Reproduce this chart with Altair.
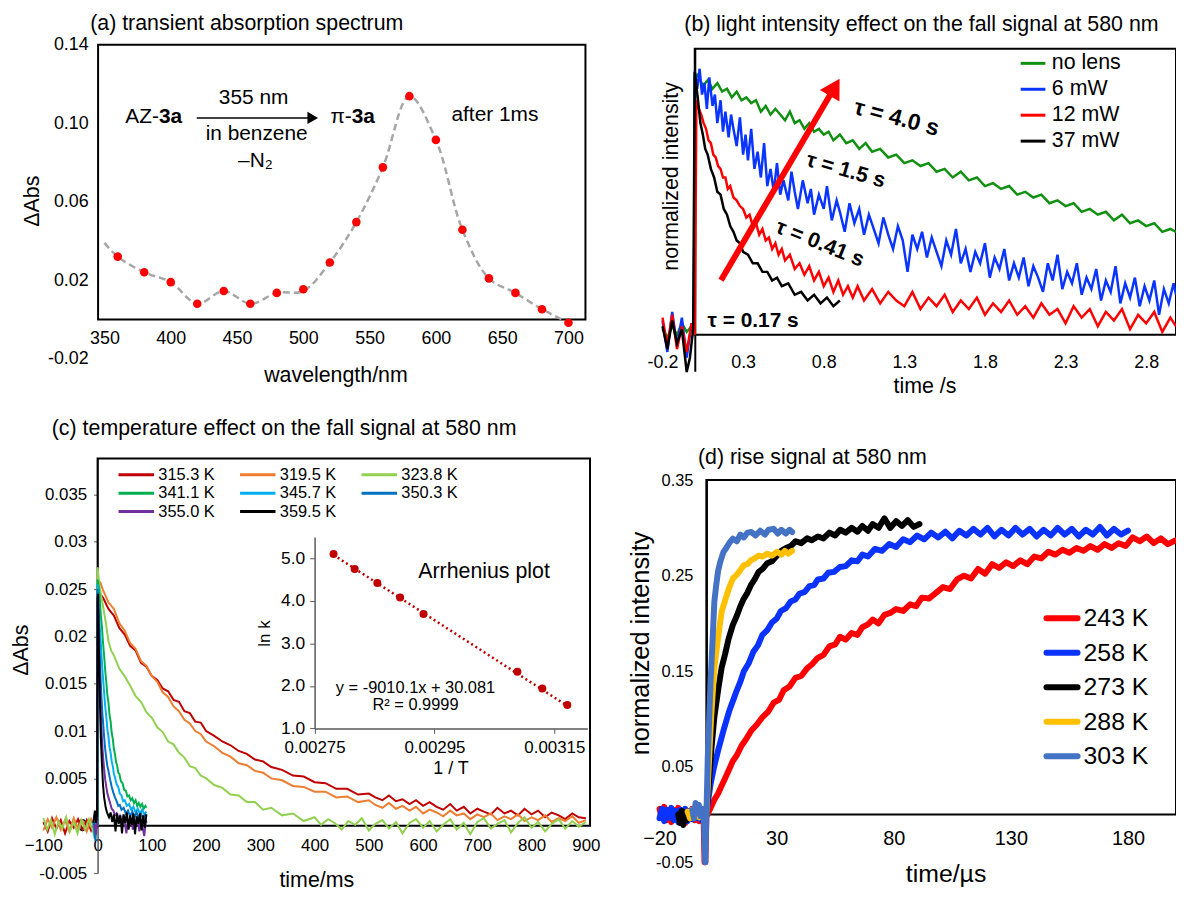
import altair as alt
import pandas as pd

FONT = "Liberation Sans"
W, H = 1176, 884

# ---------------- (a) transient absorption spectrum ----------------
a_wavelength = [360, 380, 400, 420, 440, 460, 480, 500, 520, 540, 560, 580, 600, 620, 640, 660, 680, 700]
a_dabs = [0.032, 0.024, 0.019, 0.008, 0.0145, 0.008, 0.0135, 0.0154, 0.029, 0.0496,
          0.0775, 0.1138, 0.0915, 0.0457, 0.0209, 0.0135, 0.0052, -0.0017]
a_curve_wavelength = [350, 360, 380, 400, 420, 440, 460, 480, 500, 520, 540, 560, 580, 600, 620, 640, 660, 680, 700]
a_curve_dabs = [0.039, 0.032, 0.024, 0.019, 0.008, 0.0145, 0.008, 0.0135, 0.0145, 0.029, 0.0496,
                0.0775, 0.1138, 0.0915, 0.0457, 0.0209, 0.0135, 0.0052, -0.0017]
a_xticks = [350, 400, 450, 500, 550, 600, 650, 700]
a_yticks = [-0.02, 0.02, 0.06, 0.10, 0.14]

# ---------------- (b) light intensity effect ----------------
b_names = ["\u00a0\u00a0no lens", "\u00a0\u00a06 mW", "12 mW", "37 mW"]
b_colors = ["#109010", "#0A34FF", "#FF0000", "#000000"]
b_green = [(-0.2, 0.02), (-0.17, -0.01), (-0.14, 0.03), (-0.11, 0.0), (-0.08, 0.04), (-0.05, 0.01), (-0.02, 0.03), (-0.005, 0.02),
           (0.0, 0.90), (0.02, 0.91), (0.05, 0.87), (0.08, 0.89), (0.11, 0.86), (0.14, 0.88), (0.17, 0.85), (0.2, 0.86), (0.23, 0.83),
           (0.26, 0.85), (0.29, 0.82), (0.32, 0.83), (0.35, 0.81), (0.38, 0.82), (0.41, 0.78), (0.44, 0.8), (0.47, 0.77), (0.5, 0.79),
           (0.53, 0.77), (0.56, 0.75), (0.59, 0.78), (0.62, 0.74), (0.65, 0.75), (0.68, 0.72), (0.71, 0.74), (0.74, 0.71), (0.77, 0.72),
           (0.8, 0.7), (0.83, 0.71), (0.86, 0.68), (0.9, 0.7), (0.94, 0.67), (0.98, 0.68), (1.02, 0.65), (1.06, 0.67), (1.1, 0.64),
           (1.15, 0.65), (1.2, 0.62), (1.25, 0.63), (1.3, 0.6), (1.35, 0.61), (1.4, 0.59), (1.45, 0.6), (1.5, 0.57), (1.55, 0.58),
           (1.6, 0.55), (1.65, 0.57), (1.7, 0.54), (1.75, 0.55), (1.8, 0.52), (1.85, 0.53), (1.9, 0.51), (1.95, 0.52), (2.0, 0.49),
           (2.05, 0.5), (2.1, 0.48), (2.15, 0.49), (2.2, 0.46), (2.25, 0.47), (2.3, 0.45), (2.35, 0.46), (2.4, 0.43), (2.45, 0.44),
           (2.5, 0.42), (2.55, 0.43), (2.6, 0.4), (2.65, 0.42), (2.7, 0.39), (2.75, 0.4), (2.8, 0.38), (2.85, 0.39), (2.9, 0.36),
           (2.95, 0.37), (2.985, 0.36)]
b_blue = [(-0.2, 0.05), (-0.17, -0.06), (-0.14, 0.08), (-0.11, -0.04), (-0.08, 0.06), (-0.05, -0.08), (-0.02, 0.04), (-0.005, 0.0),
          (0.0, 0.92), (0.015, 0.86), (0.03, 0.93), (0.045, 0.84), (0.06, 0.88), (0.075, 0.79), (0.09, 0.9), (0.11, 0.8), (0.125, 0.84),
          (0.14, 0.74), (0.16, 0.82), (0.175, 0.71), (0.19, 0.78), (0.21, 0.69), (0.225, 0.77), (0.24, 0.72), (0.26, 0.66), (0.28, 0.76),
          (0.3, 0.63), (0.315, 0.7), (0.33, 0.61), (0.35, 0.72), (0.37, 0.58), (0.39, 0.64), (0.41, 0.55), (0.43, 0.67), (0.45, 0.52),
          (0.47, 0.58), (0.49, 0.5), (0.51, 0.6), (0.53, 0.49), (0.55, 0.54), (0.58, 0.47), (0.6, 0.57), (0.62, 0.5), (0.64, 0.44),
          (0.67, 0.54), (0.7, 0.46), (0.72, 0.51), (0.74, 0.42), (0.77, 0.49), (0.8, 0.44), (0.82, 0.52), (0.85, 0.4), (0.88, 0.47),
          (0.9, 0.43), (0.93, 0.36), (0.96, 0.46), (0.99, 0.39), (1.02, 0.44), (1.05, 0.35), (1.08, 0.42), (1.11, 0.37), (1.14, 0.32),
          (1.17, 0.41), (1.2, 0.35), (1.23, 0.3), (1.26, 0.38), (1.29, 0.33), (1.32, 0.22), (1.35, 0.35), (1.38, 0.3), (1.41, 0.36),
          (1.44, 0.27), (1.47, 0.34), (1.5, 0.29), (1.53, 0.24), (1.56, 0.33), (1.59, 0.28), (1.62, 0.37), (1.65, 0.25), (1.68, 0.3),
          (1.71, 0.22), (1.74, 0.29), (1.77, 0.25), (1.8, 0.32), (1.83, 0.2), (1.86, 0.27), (1.89, 0.23), (1.92, 0.3), (1.95, 0.19),
          (1.98, 0.25), (2.01, 0.2), (2.04, 0.27), (2.07, 0.17), (2.1, 0.24), (2.13, 0.2), (2.16, 0.15), (2.19, 0.25), (2.22, 0.19),
          (2.25, 0.28), (2.28, 0.16), (2.31, 0.22), (2.34, 0.18), (2.37, 0.25), (2.4, 0.14), (2.43, 0.2), (2.46, 0.16), (2.49, 0.23),
          (2.52, 0.12), (2.55, 0.19), (2.58, 0.15), (2.61, 0.24), (2.64, 0.11), (2.67, 0.18), (2.7, 0.13), (2.73, 0.2), (2.76, 0.1),
          (2.79, 0.17), (2.82, 0.12), (2.85, 0.19), (2.88, 0.07), (2.91, 0.16), (2.94, 0.11), (2.97, 0.18), (2.985, 0.14)]
b_red = [(-0.2, 0.06), (-0.17, -0.04), (-0.14, 0.07), (-0.11, -0.05), (-0.08, 0.03), (-0.05, -0.06), (-0.02, 0.04), (0.0, 0.0),
         (0.01, 0.82), (0.025, 0.79), (0.04, 0.77), (0.055, 0.74), (0.07, 0.72), (0.085, 0.68), (0.1, 0.67), (0.115, 0.63), (0.13, 0.62),
         (0.145, 0.59), (0.16, 0.58), (0.175, 0.55), (0.19, 0.55), (0.205, 0.51), (0.22, 0.52), (0.24, 0.48), (0.26, 0.47), (0.28, 0.45),
         (0.3, 0.44), (0.32, 0.41), (0.34, 0.42), (0.36, 0.38), (0.38, 0.39), (0.4, 0.35), (0.42, 0.37), (0.44, 0.33), (0.46, 0.34),
         (0.48, 0.3), (0.5, 0.32), (0.52, 0.28), (0.54, 0.3), (0.56, 0.26), (0.59, 0.28), (0.62, 0.23), (0.65, 0.25), (0.68, 0.21),
         (0.71, 0.24), (0.74, 0.19), (0.77, 0.22), (0.8, 0.17), (0.83, 0.2), (0.86, 0.15), (0.89, 0.19), (0.92, 0.14), (0.95, 0.17),
         (0.98, 0.13), (1.01, 0.17), (1.05, 0.12), (1.1, 0.16), (1.15, 0.11), (1.2, 0.15), (1.25, 0.12), (1.3, 0.1), (1.35, 0.15),
         (1.4, 0.09), (1.45, 0.13), (1.5, 0.1), (1.55, 0.14), (1.6, 0.08), (1.65, 0.12), (1.7, 0.09), (1.75, 0.13), (1.8, 0.07),
         (1.85, 0.11), (1.9, 0.08), (1.95, 0.12), (2.0, 0.07), (2.05, 0.1), (2.1, 0.06), (2.15, 0.11), (2.2, 0.07), (2.25, 0.09),
         (2.3, 0.04), (2.35, 0.1), (2.4, 0.06), (2.45, 0.09), (2.5, 0.03), (2.55, 0.08), (2.6, 0.05), (2.65, 0.09), (2.7, 0.02),
         (2.75, 0.07), (2.8, 0.04), (2.85, 0.08), (2.9, 0.01), (2.95, 0.06), (2.985, 0.03)]
b_black = [(-0.2, 0.03), (-0.17, -0.05), (-0.14, 0.05), (-0.11, -0.03), (-0.08, 0.02), (-0.05, -0.13), (-0.03, -0.08), (-0.01, 0.02),
           (0.0, 0.92), (0.02, 0.82), (0.035, 0.74), (0.05, 0.70), (0.065, 0.65), (0.08, 0.63), (0.1, 0.58), (0.12, 0.55), (0.14, 0.50),
           (0.16, 0.49), (0.18, 0.44), (0.2, 0.42), (0.22, 0.38), (0.24, 0.36), (0.26, 0.33), (0.28, 0.32), (0.3, 0.29), (0.33, 0.28),
           (0.36, 0.25), (0.39, 0.25), (0.42, 0.22), (0.45, 0.22), (0.48, 0.19), (0.51, 0.20), (0.54, 0.17), (0.58, 0.18), (0.62, 0.14),
           (0.66, 0.15), (0.7, 0.12), (0.74, 0.14), (0.78, 0.11), (0.82, 0.13), (0.86, 0.10), (0.9, 0.12)]
b_xticks = [-0.2, 0.3, 0.8, 1.3, 1.8, 2.3, 2.8]

# ---------------- (c) temperature effect ----------------
c_names = ["315.3 K", "319.5 K", "323.8 K", "341.1 K", "345.7 K", "350.3 K", "355.0 K", "359.5 K"]
c_colors = ["#C00000", "#ED7D31", "#92D050", "#00B050", "#00B0F0", "#0070C0", "#7030A0", "#000000"]
c_315 = [(-100, 0.0004), (-92, -0.0006), (-84, 0.0008), (-76, -0.0003), (-68, 0.0006), (-60, -0.0008), (-52, 0.0005), (-44, -0.0002),
         (-36, 0.0007), (-28, -0.0004), (-20, 0.0006), (-12, -0.0005), (-5, 0.0003), (-1, 0.0),
         (0, 0.0248), (10, 0.0241), (20, 0.0229), (30, 0.0222), (40, 0.0209), (50, 0.0202), (60, 0.019), (70, 0.0185), (80, 0.0172),
         (90, 0.0168), (100, 0.0158), (110, 0.0154), (120, 0.0145), (130, 0.0142), (140, 0.0133), (150, 0.0131), (160, 0.0121),
         (170, 0.0119), (180, 0.011), (190, 0.0109), (200, 0.01), (215, 0.0095), (230, 0.0089), (245, 0.0085), (260, 0.0079),
         (275, 0.0076), (290, 0.007), (305, 0.0068), (320, 0.0062), (340, 0.0059), (360, 0.0053), (380, 0.0052), (400, 0.0046),
         (420, 0.0045), (440, 0.0039), (460, 0.0039), (480, 0.0033), (500, 0.0034), (512, 0.003), (525, 0.0027), (537, 0.0032),
         (550, 0.0026), (562, 0.0028), (575, 0.0023), (587, 0.0027), (600, 0.0021), (612, 0.0025), (625, 0.002), (637, 0.0017),
         (650, 0.0023), (662, 0.0016), (675, 0.002), (687, 0.0013), (700, 0.0018), (712, 0.0015), (725, 0.0012), (737, 0.0019),
         (750, 0.0013), (762, 0.0016), (775, 0.0011), (787, 0.0018), (800, 0.0012), (812, 0.0016), (825, 0.0009), (837, 0.0014),
         (850, 0.0011), (862, 0.0007), (875, 0.0013), (887, 0.0009), (900, 0.0008)]
c_319 = [(-100, -0.0005), (-92, 0.0007), (-84, -0.0002), (-76, 0.0009), (-68, -0.0004), (-60, 0.0006), (-52, -0.0006), (-44, 0.0008),
         (-36, -0.0003), (-28, 0.0005), (-20, -0.0006), (-12, 0.0007), (-5, -0.0004), (-1, 0.0003),
         (0, 0.026), (5, 0.0257), (10, 0.0249), (20, 0.0236), (30, 0.0229), (40, 0.0214), (50, 0.0206), (60, 0.0193), (70, 0.0187),
         (80, 0.0174), (90, 0.0169), (100, 0.0158), (110, 0.0152), (120, 0.0141), (130, 0.0136), (140, 0.0126), (150, 0.0121),
         (160, 0.0112), (170, 0.0108), (180, 0.01), (190, 0.0097), (200, 0.0089), (215, 0.0084), (230, 0.0077), (245, 0.0073),
         (260, 0.0066), (275, 0.0064), (290, 0.0058), (305, 0.0056), (320, 0.005), (340, 0.0048), (360, 0.0042), (380, 0.0041),
         (400, 0.0036), (420, 0.0036), (440, 0.003), (460, 0.0031), (480, 0.0025), (500, 0.0027), (512, 0.0022), (525, 0.0019),
         (537, 0.0024), (550, 0.0018), (562, 0.0021), (575, 0.0016), (587, 0.002), (600, 0.0013), (612, 0.0017), (625, 0.0014),
         (637, 0.001), (650, 0.0016), (662, 0.0011), (675, 0.0013), (687, 0.0007), (700, 0.0012), (712, 0.0009), (725, 0.0013),
         (737, 0.0006), (750, 0.001), (762, 0.0007), (775, 0.0012), (787, 0.0005), (800, 0.0009), (812, 0.0006), (825, 0.0011),
         (837, 0.0004), (850, 0.0008), (862, 0.0005), (875, 0.001), (887, 0.0003), (900, 0.0006)]
c_323 = [(-100, 0.0008), (-93, -0.0004), (-86, 0.0006), (-79, -0.0009), (-72, 0.0005), (-65, -0.0003), (-58, 0.0009), (-51, -0.0006),
         (-44, 0.0004), (-37, -0.0008), (-30, 0.0006), (-23, -0.0004), (-16, 0.0007), (-9, -0.0005), (-5, -0.0014), (-2, 0.0004), (-0.5, 0.0),
         (0, 0.0273), (3, 0.0255), (6, 0.0245), (10, 0.0232), (15, 0.0215), (20, 0.0195), (25, 0.0185), (30, 0.018), (40, 0.0166),
         (50, 0.0158), (60, 0.0148), (70, 0.0137), (80, 0.0131), (90, 0.012), (100, 0.0114), (110, 0.0104), (120, 0.0099),
         (130, 0.0089), (140, 0.0086), (150, 0.0077), (160, 0.0072), (170, 0.0063), (180, 0.0061), (190, 0.0053), (200, 0.005),
         (215, 0.0043), (230, 0.004), (245, 0.0033), (260, 0.0032), (275, 0.0025), (290, 0.0025), (305, 0.0017), (320, 0.0019),
         (340, 0.0011), (360, 0.0013), (380, 0.0005), (400, 0.0009), (412, 0.0001), (425, 0.0007), (437, 0.0003), (450, -0.0004),
         (462, 0.0005), (475, 0.0001), (487, 0.0008), (500, -0.0005), (512, 0.0002), (525, 0.0006), (537, -0.0003), (550, 0.0004),
         (562, -0.0008), (575, 0.0003), (587, 0.0007), (600, -0.0002), (612, 0.0005), (625, -0.0006), (637, 0.0001), (650, 0.0007),
         (662, -0.0004), (675, 0.0003), (687, -0.0009), (700, 0.0004), (712, 0.0008), (725, -0.0003), (737, 0.0002), (750, 0.0006),
         (762, -0.0007), (775, 0.0003), (787, 0.0009), (800, -0.0002), (812, 0.0004), (825, -0.0006), (837, 0.0002), (850, 0.0007),
         (862, -0.0003), (875, 0.0005), (887, -0.0001), (900, 0.0004)]
c_341 = [(-8, 0.0004), (-5, -0.0005), (-2, 0.0006), (-0.5, 0.0),
         (0, 0.026), (2, 0.0252), (4, 0.024), (6, 0.0222), (8, 0.021), (10, 0.0193), (12, 0.018), (14, 0.0164), (16, 0.0152),
         (18, 0.0138), (20, 0.013), (22, 0.0117), (24, 0.011), (26, 0.0098), (28, 0.0092), (30, 0.0081), (32, 0.0076), (34, 0.0067),
         (36, 0.0064), (38, 0.0056), (40, 0.0055), (43, 0.0047), (46, 0.0045), (49, 0.0038), (52, 0.0037), (55, 0.0031), (58, 0.0032),
         (61, 0.0027), (64, 0.0029), (67, 0.0024), (70, 0.0027), (73, 0.0021), (76, 0.0024), (79, 0.002), (82, 0.0023), (85, 0.0018),
         (88, 0.0021), (90, 0.0019)]
c_345 = [(-8, 0.0005), (-5, -0.0013), (-3, 0.0002), (-1, 0.0008),
         (0, 0.0255), (2, 0.0235), (4, 0.021), (6, 0.0192), (8, 0.0172), (10, 0.0156), (12, 0.0141), (14, 0.0126), (16, 0.0115),
         (18, 0.0102), (20, 0.0094), (22, 0.0083), (24, 0.0077), (26, 0.0068), (28, 0.0063), (30, 0.0055), (32, 0.0051), (35, 0.0044),
         (38, 0.0041), (41, 0.0034), (44, 0.0032), (47, 0.0026), (50, 0.0027), (54, 0.0021), (58, 0.0023), (62, 0.0017), (66, 0.002),
         (70, 0.0014), (74, 0.0018), (78, 0.0013), (82, 0.0017), (86, 0.0012), (90, 0.0015)]
c_350 = [(-7, 0.0003), (-4, -0.0016), (-2, 0.0004), (-0.5, 0.0),
         (0, 0.025), (1, 0.0232), (2, 0.0215), (3, 0.0197), (4, 0.018), (5, 0.0163), (6, 0.015), (7, 0.0137), (8, 0.0127), (9, 0.0117),
         (10, 0.011), (12, 0.0094), (14, 0.0081), (16, 0.0071), (18, 0.0063), (20, 0.0058), (23, 0.0049), (26, 0.0041), (29, 0.0035),
         (32, 0.003), (35, 0.0026), (38, 0.0021), (41, 0.0022), (44, 0.0017), (48, 0.0019), (52, 0.0013), (56, 0.0016), (60, 0.001),
         (64, 0.0015), (68, 0.0009), (72, 0.0014), (76, 0.0008), (80, 0.0013), (84, 0.0007), (88, 0.0012), (90, 0.001)]
c_355 = [(-6, 0.0002), (-3, -0.0009), (-1, 0.0003),
         (0, 0.0245), (1, 0.022), (2, 0.0198), (3, 0.0175), (4, 0.0155), (5, 0.0135), (6, 0.0118), (7, 0.0104), (8, 0.0092), (9, 0.0082),
         (10, 0.0073), (12, 0.006), (14, 0.0049), (16, 0.0041), (18, 0.0034), (20, 0.003), (23, 0.0024), (26, 0.0018), (29, 0.0016),
         (32, 0.0011), (35, 0.0013), (38, 0.0006), (41, 0.001), (44, 0.0002), (47, 0.0009), (50, 0.0004), (53, -0.0008), (56, 0.0007),
         (59, 0.0001), (62, 0.0008), (65, -0.0004), (68, 0.0007), (71, 0.0), (74, 0.0008), (77, -0.0006), (80, 0.0007), (83, -0.0002),
         (86, -0.0011), (89, 0.0006), (90, 0.0003)]
c_359 = [(-8, 0.0003), (-5, 0.0016), (-3, 0.0003), (-1, 0.0012),
         (0, 0.024), (1, 0.0245), (2, 0.02), (3, 0.017), (4, 0.0142), (5, 0.0115), (6, 0.0092), (8, 0.0065), (10, 0.0043), (12, 0.003),
         (15, 0.0019), (18, 0.0013), (21, 0.0009), (24, 0.0014), (27, 0.0004), (30, 0.0012), (33, -0.0006), (36, 0.0013), (39, 0.0002),
         (42, 0.0011), (45, -0.0008), (48, 0.0012), (51, 0.0003), (54, 0.0014), (57, -0.0004), (60, 0.0011), (63, 0.0001), (66, 0.0013),
         (69, -0.0009), (72, 0.001), (75, 0.0002), (78, 0.0013), (81, -0.0005), (84, 0.0011), (87, -0.0002), (90, 0.0012)]
c_series = [c_315, c_319, c_323, c_341, c_345, c_350, c_355, c_359]
c_xticks = [-100, 0, 100, 200, 300, 400, 500, 600, 700, 800, 900]
c_yticks = [-0.005, 0, 0.005, 0.01, 0.015, 0.02, 0.025, 0.03, 0.035]

# inset: Arrhenius plot
i_inv_T = [0.0027816, 0.0028169, 0.0028547, 0.0028927, 0.0029317, 0.0030883, 0.0031299, 0.0031716]
i_ln_k = [5.10, 4.75, 4.42, 4.08, 3.69, 2.33, 1.94, 1.55]
i_trend_x = [0.0027816, 0.0031716]
i_trend_y = [5.08, 1.53]
i_xticks = [0.00275, 0.00295, 0.00315]
i_yticks = [1, 2, 3, 4, 5]

# ---------------- (d) rise signal ----------------
d_names = ["243 K", "258 K", "273 K", "288 K", "303 K"]
d_colors = ["#FF0000", "#0A33FF", "#000000", "#FFC000", "#4472C4"]
d_243 = [(-20, 0.006), (-19, -0.004), (-18, 0.008), (-17, -0.006), (-16, 0.004), (-15, -0.008), (-14, 0.005), (-13, -0.003),
         (-12, 0.007), (-11, -0.005), (-10, 0.004), (-9, -0.009), (-8, 0.003), (-7, -0.004), (-6, 0.006), (-5, -0.006), (-4, 0.003),
         (-3, -0.007), (-2, 0.004), (-1.2, -0.004), (-0.8, -0.05), (-0.4, -0.05), (0, -0.002),
         (0.5, 0.0), (2, 0.008), (3.5, 0.016), (5, 0.022), (6.5, 0.03), (8, 0.038), (9.5, 0.046), (11.3, 0.056), (13, 0.062), (15, 0.072),
         (17, 0.079), (19.2, 0.088), (21.5, 0.094), (24, 0.102), (26.5, 0.108), (28.7, 0.117), (31, 0.12), (33, 0.13), (35.5, 0.134),
         (38, 0.143), (40.5, 0.145), (43, 0.153), (45, 0.157), (47.6, 0.164), (50, 0.167), (52.5, 0.176), (55, 0.178), (57, 0.186),
         (59.5, 0.183), (62, 0.19), (64.5, 0.188), (66.6, 0.196), (69, 0.199), (71, 0.204), (73.5, 0.2), (76, 0.209), (78.5, 0.211),
         (81, 0.215), (84, 0.213), (87, 0.22), (89.5, 0.218), (92, 0.227), (95, 0.226), (98, 0.232), (101, 0.238), (104, 0.236),
         (107, 0.246), (110, 0.25), (113, 0.247), (116, 0.257), (119, 0.252), (122, 0.262), (125, 0.258), (128, 0.264), (131, 0.26),
         (134, 0.266), (137, 0.262), (140, 0.27), (143, 0.268), (146, 0.275), (149, 0.272), (152, 0.277), (155, 0.274), (158, 0.279),
         (161, 0.276), (164, 0.281), (167, 0.277), (170, 0.283), (173, 0.279), (176, 0.284), (179, 0.281), (182, 0.29), (185, 0.286),
         (188, 0.291), (191, 0.284), (194, 0.289), (197, 0.283), (200.5, 0.287)]
d_258 = [(-20, -0.004), (-19, 0.006), (-18, -0.007), (-17, 0.005), (-16, -0.003), (-15, 0.007), (-14, -0.006), (-13, 0.004),
         (-12, -0.008), (-11, 0.005), (-10, -0.004), (-9, 0.006), (-8, -0.007), (-7, 0.004), (-6, -0.005), (-5, 0.006), (-4, -0.004),
         (-3, 0.005), (-2, -0.006), (-1, 0.003), (0, 0.0),
         (0.8, 0.015), (1.8, 0.032), (3.3, 0.05), (5, 0.067), (7.3, 0.088), (9.7, 0.108), (11.5, 0.12), (13, 0.13), (14.5, 0.139),
         (16, 0.15), (18, 0.158), (20, 0.17), (22, 0.177), (23.9, 0.188), (26, 0.193), (28, 0.201), (30, 0.205), (31.8, 0.213),
         (34, 0.216), (36, 0.223), (38, 0.225), (39.7, 0.231), (42, 0.233), (44, 0.239), (46, 0.24), (47.6, 0.246), (50, 0.247),
         (52, 0.253), (54.5, 0.254), (57, 0.259), (59.5, 0.26), (62, 0.266), (64.5, 0.265), (66.6, 0.272), (69, 0.27), (72, 0.278),
         (75, 0.276), (78, 0.283), (81, 0.28), (84, 0.288), (87, 0.285), (90, 0.292), (93, 0.288), (96, 0.295), (99, 0.29),
         (102, 0.296), (105, 0.289), (108, 0.297), (111, 0.292), (114, 0.299), (117, 0.293), (120, 0.3), (123, 0.291), (126, 0.298),
         (129, 0.292), (132, 0.3), (135, 0.293), (138, 0.299), (141, 0.291), (144, 0.298), (147, 0.292), (150, 0.3), (153, 0.293),
         (156, 0.299), (159, 0.291), (162, 0.298), (165, 0.293), (168, 0.301), (171, 0.292), (174, 0.299), (177, 0.293), (180, 0.297)]
d_273 = [(-12, 0.0), (-11.3, -0.009), (-10.6, 0.004), (-9.9, -0.011), (-9.2, 0.002), (-8.5, -0.006), (-7.8, 0.003), (-7, -0.004),
         (-6, 0.004), (-5, -0.003), (-4, 0.004), (-3, -0.002), (-2, 0.003), (-1, -0.002), (0, 0.0),
         (1, 0.032), (2.2, 0.07), (3.4, 0.102), (5, 0.13), (6.5, 0.1535), (8, 0.168), (9.5, 0.184), (11.3, 0.1985), (13, 0.208),
         (14.5, 0.218), (16, 0.226), (17.5, 0.232), (19, 0.24), (20.6, 0.246), (22.3, 0.254), (24, 0.257), (26, 0.263), (28, 0.265),
         (30.2, 0.271), (32, 0.276), (34, 0.279), (36, 0.281), (38.1, 0.286), (40.5, 0.284), (43, 0.289), (45, 0.287), (47.6, 0.291),
         (50, 0.289), (52.5, 0.295), (55, 0.292), (57.1, 0.298), (59.5, 0.295), (62, 0.3), (64.5, 0.296), (66.6, 0.302), (69, 0.297),
         (71, 0.304), (73.5, 0.3), (76, 0.31), (78.5, 0.3), (81, 0.307), (83.5, 0.302), (86, 0.308), (88.5, 0.301), (91, 0.304)]
d_288 = [(-8, 0.003), (-7, -0.004), (-6, 0.005), (-5, -0.003), (-4, 0.004), (-3, -0.003), (-2, 0.003), (-1, -0.002), (0, 0.0),
         (1, 0.05), (2, 0.1), (3.4, 0.1535), (5, 0.185), (6.5, 0.212), (8, 0.224), (9.5, 0.236), (11.3, 0.247), (13, 0.251),
         (14.5, 0.256), (16, 0.261), (17.5, 0.262), (19, 0.266), (20.6, 0.268), (22.3, 0.271), (24, 0.27), (26, 0.273), (28, 0.271),
         (30.2, 0.275), (32, 0.272), (33.5, 0.276), (35, 0.273), (36.6, 0.276)]
d_303 = [(-6, 0.005), (-5.3, -0.004), (-4.6, 0.012), (-3.9, 0.003), (-3.2, 0.01), (-2.5, -0.002), (-1.8, 0.006), (-1.1, -0.003),
         (-0.5, -0.05), (0, -0.002),
         (0.6, 0.06), (1.2, 0.1), (1.8, 0.14), (2.6, 0.18), (3.4, 0.2228), (4.2, 0.24), (5, 0.255), (6, 0.265), (7.3, 0.2748),
         (8.5, 0.279), (10, 0.285), (11.3, 0.2887), (13, 0.286), (14.5, 0.293), (16, 0.29), (17.5, 0.295), (19.2, 0.2956), (21, 0.292),
         (23, 0.297), (25, 0.293), (26.5, 0.298), (28.7, 0.299), (30.5, 0.294), (32, 0.298), (34, 0.294), (35.5, 0.298), (36.6, 0.2956)]
d_series = [d_243, d_258, d_273, d_288, d_303]
d_xticks = [-20, 30, 80, 130, 180]
d_yticks = [-0.05, 0.05, 0.15, 0.25, 0.35]


# ---------------- helpers ----------------
def S(domain, rng):
    return alt.Scale(domain=domain, range=rng, nice=False, zero=False)


def ax(**kw):
    base = dict(grid=False, labelFlush=False, labelOverlap=False, labelFont=FONT, titleFont=FONT,
                labelColor="black", titleColor="black", titleFontWeight="normal")
    base.update(kw)
    return alt.Axis(**base)


def fmt_expr(spec):
    return f"datum.value < 0 ? '-' + format(-datum.value, '{spec}') : format(datum.value, '{spec}')"


def line_layer(pairs, xs, ys, color, width, **kw):
    df = pd.DataFrame(pairs, columns=["t", "v"])
    return alt.Chart(df).mark_line(color=color, strokeWidth=width, **kw).encode(
        x=alt.X("t:Q", scale=xs, axis=None), y=alt.Y("v:Q", scale=ys, axis=None))


def frame_layer(x0, x1, y0, y1, xs, ys, xaxis, yaxis):
    df = pd.DataFrame({"x0": [x0], "x1": [x1], "y0": [y0], "y1": [y1]})
    return alt.Chart(df).mark_rect(fill="white", fillOpacity=0, stroke="black", strokeWidth=2).encode(
        x=alt.X("x0:Q", scale=xs, axis=xaxis), x2="x1:Q",
        y=alt.Y("y0:Q", scale=ys, axis=yaxis), y2="y1:Q")


def label(text, x, y, size, **kw):
    df = pd.DataFrame({"s": [text]})
    return alt.Chart(df).mark_text(fontSize=size, font=FONT, **kw).encode(
        text="s:N", x=alt.value(x), y=alt.value(y))


def dlabel(text, x, y, xs, ys, size, **kw):
    df = pd.DataFrame({"s": [text], "x": [x], "y": [y]})
    return alt.Chart(df).mark_text(fontSize=size, font=FONT, **kw).encode(
        text="s:N", x=alt.X("x:Q", scale=xs, axis=None), y=alt.Y("y:Q", scale=ys, axis=None))


def legend_rows(labels, colors, x0, x1, tx, y_rng, size, width, cap="butt"):
    df = pd.DataFrame({"lab": labels, "row": list(range(len(labels)))})
    ysc = S([0, len(labels) - 1], y_rng)
    rule = alt.Chart(df).mark_rule(strokeWidth=width, strokeCap=cap).encode(
        x=alt.value(x0), x2=alt.value(x1), y=alt.Y("row:Q", scale=ysc, axis=None),
        color=alt.Color("lab:N", scale=alt.Scale(domain=labels, range=colors), legend=None))
    txt = alt.Chart(df).mark_text(align="left", baseline="middle", fontSize=size, font=FONT).encode(
        x=alt.value(tx), y=alt.Y("row:Q", scale=ysc, axis=None), text="lab:N")
    return [rule, txt]


# ---------------- panel (a) ----------------
XA = S([345.2, 712.8], [90.7, 581.4])
YA = S([-0.02, 0.14], [350, 34])
a_pts = pd.DataFrame({"wl": a_wavelength, "v": a_dabs})
a_cur = pd.DataFrame({"wl": a_curve_wavelength, "v": a_curve_dabs})
panel_a = [
    frame_layer(345.2, 712.8, 0.0, 0.14, XA, YA,
                ax(orient="bottom", offset=310.5 - H, values=a_xticks, format="d", domain=False, ticks=False,
                   labelPadding=19.5, labelBaseline="middle", labelFontSize=18,
                   title="wavelength/nm", titleFontSize=21.5, titleX=329.7, titleY=56.5,
                   titleBaseline="middle", titleAlign="center"),
                ax(orient="left", offset=-90.7, values=a_yticks, labelExpr=fmt_expr(".2f"), domain=False, ticks=False,
                   labelPadding=10, labelFontSize=18, title="ΔAbs", titleFontSize=21.5,
                   titleX=-66.2, titleY=191, titleAngle=270, titleBaseline="middle", titleAlign="center")),
    alt.Chart(a_cur).mark_line(color="#A6A6A6", strokeWidth=2.5, strokeDash=[7, 4], interpolate="catmull-rom").encode(
        x=alt.X("wl:Q", scale=XA, axis=None), y=alt.Y("v:Q", scale=YA, axis=None)),
    alt.Chart(a_pts).mark_circle(color="#FF0000", size=75, opacity=1).encode(
        x=alt.X("wl:Q", scale=XA, axis=None), y=alt.Y("v:Q", scale=YA, axis=None)),
    dlabel("AZ-", 391.1, 0.1032, XA, YA, 21, align="right"),
    dlabel("3a", 391.1, 0.1032, XA, YA, 21, align="left", fontWeight="bold"),
    dlabel("355 nm", 462.5, 0.1128, XA, YA, 21),
    dlabel("in benzene", 464.8, 0.0943, XA, YA, 21),
    dlabel("–N₂", 463.9, 0.0808, XA, YA, 21),
    dlabel("π-", 536.5, 0.1032, XA, YA, 21, align="right"),
    dlabel("3a", 536.5, 0.1032, XA, YA, 21, align="left", fontWeight="bold"),
    dlabel("after 1ms", 644.5, 0.1044, XA, YA, 21),
    alt.Chart(pd.DataFrame({"x": [419.6, 507.0], "y": [0.1027, 0.1027]})).mark_line(color="black", strokeWidth=1.5).encode(
        x=alt.X("x:Q", scale=XA, axis=None), y=alt.Y("y:Q", scale=YA, axis=None)),
    alt.Chart(pd.DataFrame({"x": [507.1], "y": [0.1027]})).mark_point(
        shape="triangle-right", filled=True, size=150, color="black", opacity=1).encode(
        x=alt.X("x:Q", scale=XA, axis=None), y=alt.Y("y:Q", scale=YA, axis=None)),
]

# ---------------- panel (b) ----------------
XB = S([-0.2, 2.985], [659, 1176])
YB = S([-0.127, 1.0], [362.6, 38])
panel_b = [frame_layer(0.0, 2.985, 0.0, 1.0, XB, YB,
                       ax(orient="bottom", offset=326 - H, values=b_xticks, labelExpr=fmt_expr(".1f"), domain=False,
                          ticks=False, labelPadding=27.5, labelBaseline="middle", labelFontSize=18,
                          title="time /s", titleFontSize=21.5, titleX=922.7, titleY=52.5,
                          titleBaseline="middle", titleAlign="center"),
                       ax(orient="left", offset=-691.5, labels=False, ticks=False, domain=True, domainWidth=2,
                          domainColor="black", title="normalized intensity", titleFontSize=21.5,
                          titleX=-23.2, titleY=166, titleAngle=270, titleBaseline="middle", titleAlign="center"))]
for pairs, col in zip([b_green, b_blue, b_red, b_black], b_colors):
    panel_b.append(line_layer(pairs, XB, YB, col, 2.5))
panel_b.append(alt.Chart(pd.DataFrame({"t": [0.163, 0.8675], "v": [0.191, 0.8656]})).mark_line(
    color="#FF0000", strokeWidth=6).encode(x=alt.X("t:Q", scale=XB, axis=None), y=alt.Y("v:Q", scale=YB, axis=None)))
panel_b.append(alt.Chart(pd.DataFrame({"t": [0.8675], "v": [0.8656]})).mark_point(
    shape="triangle-up", filled=True, size=520, angle=30.5, color="#FF0000", opacity=1).encode(
    x=alt.X("t:Q", scale=XB, axis=None), y=alt.Y("v:Q", scale=YB, axis=None)))
panel_b += [
    dlabel("τ = 4.0 s", 1.251, 0.758, XB, YB, 23, angle=15, fontWeight="bold"),
    dlabel("τ = 1.5 s", 0.936, 0.573, XB, YB, 21.5, angle=16, fontWeight="bold"),
    dlabel("τ = 0.41 s", 0.775, 0.318, XB, YB, 21.5, angle=22, fontWeight="bold"),
    dlabel("τ = 0.17 s", 0.362, 0.049, XB, YB, 21, fontWeight="bold"),
]

# ---------------- panel (c) ----------------
XC = S([-100, 907.7], [35.6, 586])
YC = S([-0.005, 0.0388], [868, 450.5])
panel_c = [frame_layer(0.0, 907.7, 0.0, 0.0388, XC, YC,
                       ax(orient="bottom", offset=820.3 - H, values=c_xticks, format="d", domain=False, ticks=False,
                          labelPadding=20, labelBaseline="middle", labelFontSize=17,
                          title="time/ms", titleFontSize=21.5, titleX=310.4, titleY=55.4,
                          titleBaseline="middle", titleAlign="center"),
                       ax(orient="left", offset=-90.2, values=c_yticks, labelExpr=fmt_expr("~g"), domain=True,
                          domainWidth=1.5, domainColor="#595959", ticks=True, tickSize=4, tickColor="#595959",
                          labelPadding=7, labelFontSize=17,
                          title="ΔAbs", titleFontSize=21.5, titleX=-77, titleY=643,
                          titleAngle=270, titleBaseline="middle", titleAlign="center"))]
for pairs, col in zip(c_series, c_colors):
    panel_c.append(line_layer(pairs, XC, YC, col, 2))

# inset
XI = S([0.00275, 0.003205], [308.7, 583.3])
YI = S([1.0, 5.5], [722.3, 529.7])
i_pts = pd.DataFrame({"x": i_inv_T, "y": i_ln_k})
i_tr = pd.DataFrame({"x": i_trend_x, "y": i_trend_y})
inset = [
    alt.Chart(i_tr).mark_line(color="#C00000", strokeWidth=2.5, strokeDash=[2, 3]).encode(
        x=alt.X("x:Q", scale=XI, axis=ax(orient="bottom", offset=722.3 - H, values=i_xticks, format=".5f",
                                       domain=True, domainColor="#595959", domainWidth=1.5, tickColor="#595959",
                                       ticks=True, tickSize=5, labelPadding=14, labelBaseline="middle",
                                       labelFontSize=17, title="1 / T", titleFontSize=18, titleX=445.5,
                                       titleY=40.5, titleBaseline="middle", titleAlign="center")),
        y=alt.Y("y:Q", scale=YI, axis=ax(orient="left", offset=-308.7, values=i_yticks, format=".1f",
                                       domain=True, domainColor="#595959", domainWidth=1.5, tickColor="#595959",
                                       ticks=True, tickSize=5, labelPadding=5, labelFontSize=17.5,
                                       title="ln k", titleFontSize=17, titleX=-50,
                                       titleY=626.3, titleAngle=270, titleBaseline="middle", titleAlign="center"))),
    alt.Chart(i_pts).mark_circle(color="#C00000", size=65, opacity=1).encode(
        x=alt.X("x:Q", scale=XI, axis=None), y=alt.Y("y:Q", scale=YI, axis=None)),
]

# legend (c) in 3 columns
c_leg = pd.DataFrame({"lab": c_names, "col": [i % 3 for i in range(len(c_names))],
                      "row": [i // 3 for i in range(len(c_names))]})
LCX = S([0, 2], [111.3, 356])
LCY = S([0, 2], [467, 504])
legend_c = [
    alt.Chart(c_leg).mark_rule(strokeWidth=3, x2Offset=35.7).encode(
        x=alt.X("col:Q", scale=LCX, axis=None), x2="col:Q", y=alt.Y("row:Q", scale=LCY, axis=None),
        color=alt.Color("lab:N", scale=alt.Scale(domain=c_names, range=c_colors), legend=None)),
    alt.Chart(c_leg).mark_text(align="left", baseline="middle", dx=40, fontSize=16.5, font=FONT).encode(
        x=alt.X("col:Q", scale=LCX, axis=None), y=alt.Y("row:Q", scale=LCY, axis=None), text="lab:N"),
]

# ---------------- panel (d) ----------------
XD = S([-20, 200.5], [656, 1176])
YD = S([-0.05, 0.35], [857.1, 472.3])
panel_d = [frame_layer(0.0, 200.5, 0.0, 0.35, XD, YD,
                       ax(orient="bottom", offset=809 - H, values=d_xticks, format="d", domain=False, ticks=False,
                          labelPadding=24, labelBaseline="middle", labelFontSize=20,
                          title="time/µs", titleFontSize=25, titleX=944, titleY=59,
                          titleBaseline="middle", titleAlign="center"),
                       ax(orient="left", offset=-703.2, values=d_yticks, labelExpr=fmt_expr(".2f"), domain=True,
                          domainWidth=2, domainColor="black", ticks=False, labelPadding=13.6, labelFontSize=16.5,
                          title="normalized intensity", titleFontSize=25.5,
                          titleX=-66.5, titleY=636.3, titleAngle=270, titleBaseline="middle", titleAlign="center"))]
for pairs, col in zip(d_series, d_colors):
    panel_d.append(line_layer(pairs, XD, YD, col, 6, strokeJoin="round", strokeCap="round"))

legend_b = legend_rows(b_names, b_colors, 1019.6, 1044.5, 1051, [52.7, 131], 21.5, 3)
legend_d = legend_rows(d_names, d_colors, 1045.6, 1076.9, 1082.9, [611.3, 750.3], 25, 6, cap="round")

titles = [
    label("(a) transient absorption spectrum", 240.4, 12.7, 21.5),
    label("(b) light intensity effect on the fall signal at 580 nm", 919.7, 14.3, 21.5),
    label("(c) temperature effect on the fall signal at 580 nm", 278, 420.7, 21.5),
    label("(d) rise signal at 580 nm", 809.9, 449.7, 21.5),
    label("Arrhenius plot", 479.3, 564.7, 21.5),
    label("y = -9010.1x + 30.081", 410.3, 682, 16.5),
    label("R² = 0.9999", 410.3, 698.7, 16.5),
]

all_layers = panel_a + panel_b + panel_c + inset + panel_d + legend_b + legend_c + legend_d + titles
chart = alt.layer(*all_layers).resolve_scale(
    x="independent", y="independent", color="independent"
).resolve_axis(
    x="independent", y="independent"
).properties(
    width=W, height=H, padding=0, autosize=alt.AutoSizeParams(type="none")
).configure(font=FONT).configure_view(strokeWidth=0)

chart.save("out.html", embed_options={"renderer": "svg", "actions": False})
